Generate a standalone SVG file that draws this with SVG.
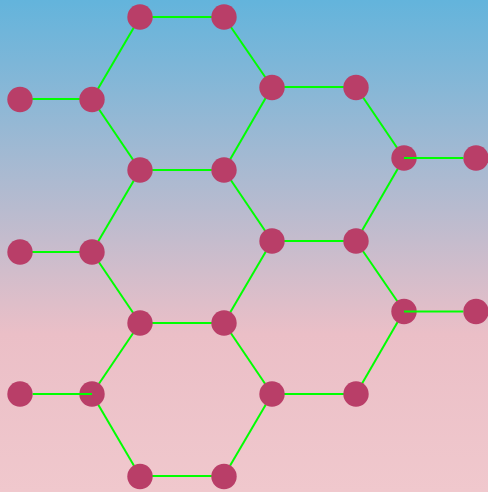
<svg xmlns="http://www.w3.org/2000/svg" width="488" height="492" viewBox="0 0 488 492">
<defs>
<linearGradient id="bg" x1="0" y1="0" x2="0" y2="1">
<stop offset="0" stop-color="#63b4dc"/>
<stop offset="0.68" stop-color="#ebbfc7"/>
<stop offset="1" stop-color="#f0c8cd"/>
</linearGradient>
<style>
.e{stroke:#00ff00;stroke-width:2;fill:none}
.n{fill:#b93e68}
</style>
</defs>
<rect width="488" height="492" fill="url(#bg)"/>
<g id="connectors">
<line class="e" x1="140" y1="17" x2="224" y2="17"/>
<line class="e" x1="140" y1="17" x2="92" y2="99"/>
<line class="e" x1="224" y1="17" x2="272" y2="87"/>
<line class="e" x1="20" y1="99" x2="92" y2="99"/>
<line class="e" x1="92" y1="99" x2="140" y2="170"/>
<line class="e" x1="272" y1="87" x2="356" y2="87"/>
<line class="e" x1="272" y1="87" x2="224" y2="170"/>
<line class="e" x1="140" y1="170" x2="224" y2="170"/>
<line class="e" x1="356" y1="87" x2="404" y2="158"/>
<line class="e" x1="404" y1="158" x2="356" y2="241"/>
<line class="e" x1="140" y1="170" x2="92" y2="252"/>
<line class="e" x1="224" y1="170" x2="272" y2="241"/>
<line class="e" x1="20" y1="252" x2="92" y2="252"/>
<line class="e" x1="272" y1="241" x2="356" y2="241"/>
<line class="e" x1="92" y1="252" x2="140" y2="323"/>
<line class="e" x1="272" y1="241" x2="224" y2="323"/>
<line class="e" x1="356" y1="241" x2="404" y2="311"/>
<line class="e" x1="140" y1="323" x2="224" y2="323"/>
<line class="e" x1="140" y1="323" x2="92" y2="394"/>
<line class="e" x1="224" y1="323" x2="272" y2="394"/>
<line class="e" x1="92" y1="394" x2="140" y2="476"/>
<line class="e" x1="404" y1="311" x2="356" y2="394"/>
<line class="e" x1="272" y1="394" x2="356" y2="394"/>
<line class="e" x1="272" y1="394" x2="224" y2="476"/>
<line class="e" x1="140" y1="476" x2="224" y2="476"/>
</g>
<g id="n1"><circle class="n" cx="140" cy="17" r="12.7"/></g>
<g id="n2"><circle class="n" cx="224" cy="17" r="12.7"/></g>
<g id="n3"><circle class="n" cx="20" cy="99.5" r="12.7"/></g>
<g id="n4"><circle class="n" cx="92" cy="99.5" r="12.7"/></g>
<g id="n5"><circle class="n" cx="272" cy="87.5" r="12.7"/></g>
<g id="n6"><circle class="n" cx="356" cy="87.5" r="12.7"/></g>
<g id="n7"><circle class="n" cx="140" cy="170" r="12.7"/></g>
<g id="n8"><circle class="n" cx="224" cy="170" r="12.7"/></g>
<g id="n9"><circle class="n" cx="404" cy="158" r="12.7"/></g>
<g id="n10"><circle class="n" cx="476" cy="158" r="12.7"/></g>
<g id="n11"><circle class="n" cx="20" cy="252" r="12.7"/></g>
<g id="n12"><circle class="n" cx="92" cy="252" r="12.7"/></g>
<g id="n13"><circle class="n" cx="272" cy="241" r="12.7"/></g>
<g id="n14"><circle class="n" cx="356" cy="241" r="12.7"/></g>
<g id="n15"><circle class="n" cx="404" cy="311.5" r="12.7"/></g>
<g id="n16"><circle class="n" cx="476" cy="311.5" r="12.7"/></g>
<g id="n17"><circle class="n" cx="140" cy="323" r="12.7"/></g>
<g id="n18"><circle class="n" cx="224" cy="323" r="12.7"/></g>
<g id="n19"><circle class="n" cx="20" cy="394" r="12.7"/></g>
<g id="n20"><circle class="n" cx="92" cy="394" r="12.7"/></g>
<g id="n21"><circle class="n" cx="272" cy="394" r="12.7"/></g>
<g id="n22"><circle class="n" cx="356" cy="394" r="12.7"/></g>
<g id="n23"><circle class="n" cx="140" cy="476.5" r="12.7"/></g>
<g id="n24"><circle class="n" cx="224" cy="476.5" r="12.7"/></g>
<g id="connectors-front">
<line class="e" x1="404" y1="158" x2="463.3" y2="158"/>
<line class="e" x1="404" y1="311.5" x2="463.3" y2="311.5"/>
<line class="e" x1="32.7" y1="394" x2="92" y2="394"/>
</g>
</svg>
